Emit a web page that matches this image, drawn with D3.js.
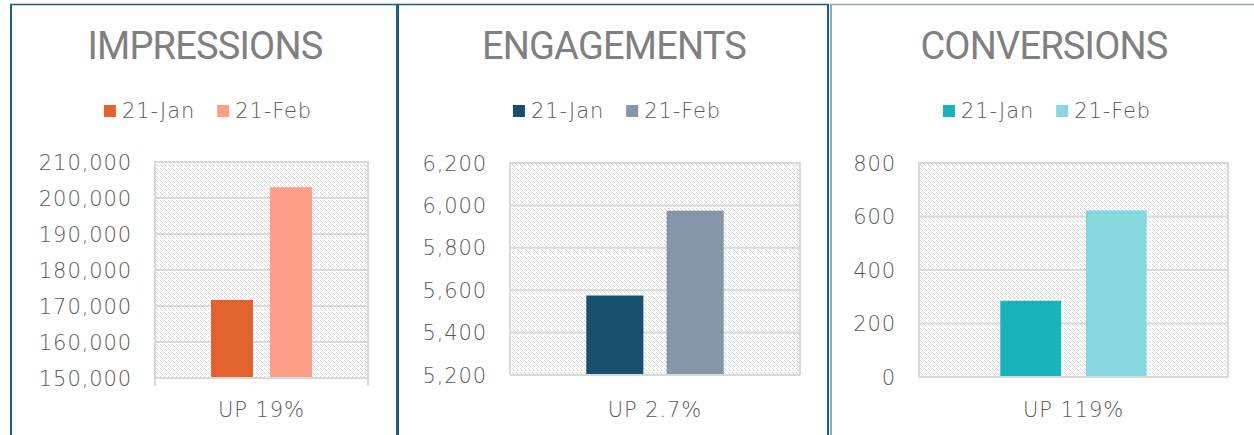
<!DOCTYPE html>
<html>
<head>
<meta charset="utf-8">
<script src="https://cdn.jsdelivr.net/npm/d3@7"></script>
<style>
  html, body { margin: 0; padding: 0; background: #fff; }
  svg { display: block; }
  .tick-label, .legend-label, .cat-label { font-family: 'DejaVu Sans', sans-serif; font-size: 21px; fill: #595959; letter-spacing: 0.9px; font-weight: 300; }
  .title { font-family: Roboto, sans-serif; font-size: 38px; fill: #808080; letter-spacing: -0.8px; }
</style>
</head>
<body>
<div id="chart"></div>
<script>
// Three small bar charts: month over month comparison
const titles = ['IMPRESSIONS', 'ENGAGEMENTS', 'CONVERSIONS'];
const seriesNames = ['21-Jan', '21-Feb'];
const changeLabels = ['UP 19%', 'UP 2.7%', 'UP 119%'];

const impressions = [171700, 203000];
const engagements = [5575, 5975];
const conversions = [285, 623];

const impressionTicks = [150000, 160000, 170000, 180000, 190000, 200000, 210000];
const engagementTicks = [5200, 5400, 5600, 5800, 6000, 6200];
const conversionTicks = [0, 200, 400, 600, 800];

// colours per panel
const palettes = [
  ['#e2622f', '#fe9e89'],
  ['#184f6d', '#8596a6'],
  ['#1ab3bc', '#89d7de']
];

// panel frames and plot areas (pixels)
const layout = [
  { x0: 11, x1: 397, cx: 205, border: '#1e5e80', plot: { left: 155, right: 368, top: 162, bottom: 378 }, tickOut: 8 },
  { x0: 398, x1: 828, cx: 614, border: '#1e5e80', plot: { left: 510, right: 800, top: 163, bottom: 375 }, tickOut: 0 },
  { x0: 831, x1: 1300, cx: 1044, border: '#84aac0', plot: { left: 919, right: 1228, top: 163, bottom: 377 }, tickOut: 0 }
];

const panels = [
  { values: impressions, ticks: impressionTicks },
  { values: engagements, ticks: engagementTicks },
  { values: conversions, ticks: conversionTicks }
];

const W = 1254, H = 435;
const svg = d3.select('#chart').append('svg')
  .attr('width', W)
  .attr('height', H);

// hatch pattern for the plot background
const pattern = svg.append('defs').append('pattern')
  .attr('id', 'hatch')
  .attr('patternUnits', 'userSpaceOnUse')
  .attr('width', 4).attr('height', 4);
pattern.append('rect').attr('width', 4).attr('height', 4).attr('fill', '#fff');
pattern.selectAll('rect.px')
  .data(d3.range(3))
  .join('rect')
    .attr('class', 'px')
    .attr('x', d => d).attr('y', d => d)
    .attr('width', 1).attr('height', 1)
    .attr('fill', '#d4d4d4');

panels.forEach((p, i) => {
  const L = layout[i];
  const pl = L.plot;
  const g = svg.append('g');

  // panel frame
  g.append('line')
    .attr('x1', L.x0 - 1).attr('x2', L.x1 + 1)
    .attr('y1', 4.5).attr('y2', 4.5)
    .attr('stroke', L.border).attr('stroke-width', 1.5);
  [L.x0, L.x1].forEach(x => {
    g.append('line')
      .attr('x1', x).attr('x2', x)
      .attr('y1', 4).attr('y2', H)
      .attr('stroke', L.border).attr('stroke-width', 2);
  });

  // title
  g.append('text')
    .attr('class', 'title')
    .attr('x', L.cx)
    .attr('y', 59)
    .attr('text-anchor', 'middle')
    .text(titles[i]);

  // legend
  const legend = g.append('g');
  let lx = 0;
  seriesNames.forEach((name, j) => {
    legend.append('rect')
      .attr('x', lx).attr('y', 105)
      .attr('width', 12).attr('height', 12)
      .attr('fill', palettes[i][j]);
    const t = legend.append('text')
      .attr('class', 'legend-label')
      .attr('x', lx + 18).attr('y', 118)
      .text(name);
    lx += 18 + t.node().getComputedTextLength() + 22;
  });
  const legendW = lx - 22;
  legend.attr('transform', `translate(${L.cx + 3 - legendW / 2},0)`);

  // scales
  const y = d3.scaleLinear()
    .domain(d3.extent(p.ticks))
    .range([pl.bottom, pl.top]);
  const x0 = d3.scaleBand()
    .domain([changeLabels[i]])
    .range([pl.left, pl.right])
    .paddingInner(0)
    .paddingOuter(0.555);
  const x1 = d3.scaleBand()
    .domain(seriesNames)
    .range([0, x0.bandwidth()])
    .paddingInner(0.289)
    .paddingOuter(0);

  // plot background
  g.append('rect')
    .attr('x', pl.left).attr('y', pl.top)
    .attr('width', pl.right - pl.left)
    .attr('height', pl.bottom - pl.top)
    .attr('fill', 'url(#hatch)');

  // gridlines
  g.selectAll('.grid')
    .data(p.ticks)
    .join('line')
      .attr('class', 'grid')
      .attr('x1', pl.left).attr('x2', pl.right)
      .attr('y1', d => y(d)).attr('y2', d => y(d))
      .attr('stroke', '#d9d9d9').attr('stroke-width', 2);
  [pl.left, pl.right].forEach(x => {
    g.append('line')
      .attr('x1', x).attr('x2', x)
      .attr('y1', pl.top - 1).attr('y2', pl.bottom + L.tickOut)
      .attr('stroke', '#d9d9d9').attr('stroke-width', 2);
  });

  // y tick labels
  g.selectAll('.tick-label')
    .data(p.ticks)
    .join('text')
      .attr('class', 'tick-label')
      .attr('x', pl.left - 23)
      .attr('y', d => y(d))
      .attr('dy', '0.36em')
      .attr('text-anchor', 'end')
      .text(d => d3.format(',')(d));

  // bars
  const lo = d3.min(p.ticks);
  g.selectAll('.bar')
    .data(p.values.map((v, j) => ({ key: seriesNames[j], value: v, color: palettes[i][j] })))
    .join('rect')
      .attr('class', 'bar')
      .attr('x', d => x0(changeLabels[i]) + x1(d.key))
      .attr('width', x1.bandwidth())
      .attr('y', d => y(d.value))
      .attr('height', d => y(lo) - y(d.value) - 1)
      .attr('fill', d => d.color);

  // category label
  g.append('text')
    .attr('class', 'cat-label')
    .attr('x', x0(changeLabels[i]) + x0.bandwidth() / 2)
    .attr('y', 417)
    .attr('text-anchor', 'middle')
    .text(changeLabels[i]);
});
</script>
</body>
</html>
